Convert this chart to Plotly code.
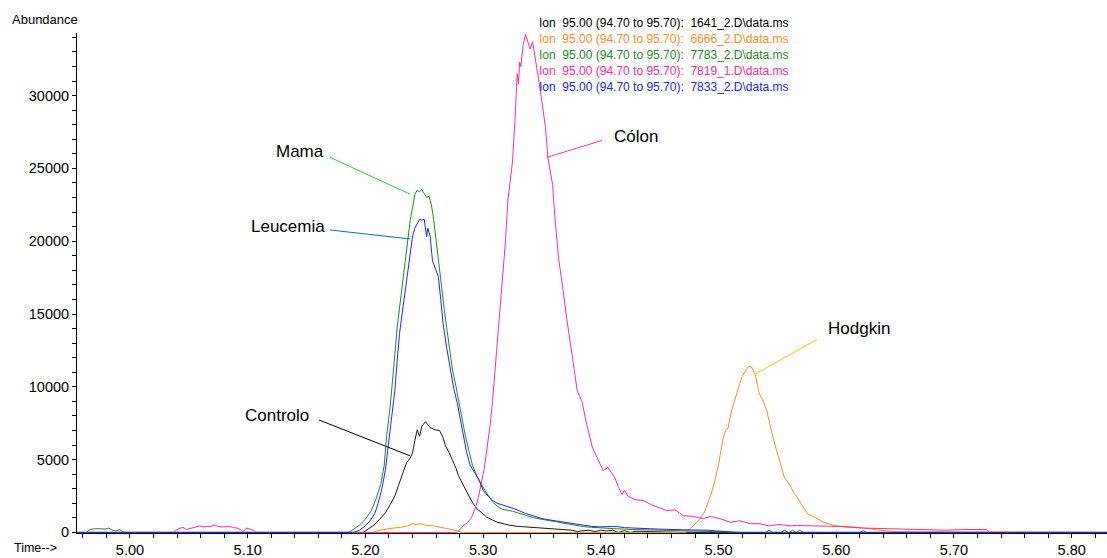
import plotly.graph_objects as go

# Extracted ion chromatograms, m/z 95.00 (94.70 to 95.70)
ion_labels = [
    "Ion\u00a0\u00a095.00 (94.70 to 95.70):\u00a0\u00a01641_2.D\\data.ms",
    "Ion\u00a0\u00a095.00 (94.70 to 95.70):\u00a0\u00a06666_2.D\\data.ms",
    "Ion\u00a0\u00a095.00 (94.70 to 95.70):\u00a0\u00a07783_2.D\\data.ms",
    "Ion\u00a0\u00a095.00 (94.70 to 95.70):\u00a0\u00a07819_1.D\\data.ms",
    "Ion\u00a0\u00a095.00 (94.70 to 95.70):\u00a0\u00a07833_2.D\\data.ms",
]
sample_names = ["Controlo", "Hodgkin", "Mama", "Cólon", "Leucemia"]

# Controlo (1641_2)
t_controlo = [4.955, 5.198, 5.200, 5.204, 5.208, 5.212, 5.217, 5.221, 5.225, 5.228,
              5.231, 5.235, 5.238, 5.240, 5.242, 5.244, 5.246, 5.248, 5.251, 5.253,
              5.255, 5.259, 5.263, 5.266, 5.268, 5.271, 5.274, 5.277, 5.279, 5.282,
              5.285, 5.288, 5.291, 5.295, 5.299, 5.303, 5.308, 5.312, 5.317, 5.322,
              5.329, 5.336, 5.343, 5.350, 5.357, 5.364, 5.371, 5.376, 5.380, 5.383,
              5.390, 5.395, 5.400, 5.405, 5.410, 5.415, 5.420, 5.425, 5.430, 5.470, 5.830]
a_controlo = [0, 0, 100, 300, 550, 900, 1350, 1900, 2500, 3200,
              3900, 4800, 5100, 5450, 6300, 7050, 6600, 7300, 7600, 7400,
              7200, 7050, 7000, 6500, 5950, 5500, 5000, 4400, 3900, 3400,
              2950, 2500, 2050, 1600, 1350, 1050, 850, 700, 600, 500,
              420, 380, 350, 300, 250, 230, 200, 150, 50, 100,
              150, 50, 150, 100, 150, 0, 120, 0, 80, 0, 0]

# Hodgkin (6666_2)
t_hodgkin = [4.955, 5.206, 5.212, 5.218, 5.224, 5.230, 5.236, 5.240, 5.243, 5.247,
             5.252, 5.258, 5.264, 5.270, 5.275, 5.279, 5.282, 5.472, 5.476, 5.480,
             5.484, 5.488, 5.491, 5.494, 5.497, 5.500, 5.502, 5.504, 5.506, 5.508,
             5.511, 5.514, 5.516, 5.518, 5.520, 5.522, 5.524, 5.526, 5.528, 5.530,
             5.531, 5.533, 5.534, 5.536, 5.538, 5.541, 5.543, 5.545, 5.548, 5.550,
             5.552, 5.556, 5.561, 5.564, 5.567, 5.571, 5.576, 5.579, 5.582, 5.589,
             5.597, 5.609, 5.623, 5.637, 5.652, 5.666, 5.675, 5.830]
a_hodgkin = [0, 0, 150, 250, 300, 350, 450, 600, 550, 600,
             480, 450, 350, 280, 200, 100, 0, 0, 250, 550,
             900, 1400, 2000, 2700, 3600, 4650, 5600, 6500, 7000, 7150,
             8350, 9200, 9700, 10200, 10700, 11000, 11250, 11400, 11350, 11000,
             10900, 10200, 9700, 9300, 9000, 8350, 7600, 6950, 6000, 5500,
             4900, 3750, 3200, 2700, 2400, 1850, 1250, 1150, 1000, 700,
             500, 350, 300, 150, 50, 50, 0, 0]

# Mama (7783_2)
t_mama = [4.955, 4.963, 4.966, 4.970, 4.975, 4.979, 4.982, 4.985, 4.988, 4.991,
          4.994, 4.996, 5.186, 5.190, 5.195, 5.200, 5.205, 5.209, 5.213, 5.216,
          5.218, 5.221, 5.223, 5.225, 5.227, 5.229, 5.232, 5.234, 5.236, 5.238,
          5.240, 5.242, 5.244, 5.246, 5.248, 5.250, 5.252, 5.254, 5.256, 5.258,
          5.261, 5.263, 5.265, 5.267, 5.269, 5.272, 5.274, 5.277, 5.279, 5.282,
          5.285, 5.288, 5.291, 5.295, 5.299, 5.303, 5.308, 5.312, 5.316, 5.320,
          5.325, 5.329, 5.336, 5.343, 5.350, 5.357, 5.364, 5.371, 5.378, 5.385,
          5.392, 5.399, 5.413, 5.427, 5.442, 5.456, 5.470, 5.484, 5.495, 5.505,
          5.512, 5.560, 5.563, 5.566, 5.569, 5.572, 5.620, 5.623, 5.626, 5.830]
a_mama = [0, 0, 200, 250, 250, 230, 300, 150, 100, 200,
          50, 0, 0, 200, 500, 900, 1500, 2300, 3300, 4600,
          6600, 8600, 10250, 12200, 14100, 15500, 17200, 18650, 20000, 21400,
          22300, 23200, 23500, 23400, 23550, 23300, 23000, 23100, 22500, 21500,
          19300, 18000, 16600, 15300, 14100, 12500, 11150, 10000, 9100, 7800,
          6600, 5600, 4600, 3800, 3200, 2700, 2100, 1800, 1600, 1550,
          1450, 1350, 1150, 1000, 900, 800, 650, 550, 450, 400,
          350, 300, 250, 200, 180, 130, 120, 100, 60, 40,
          0, 0, 150, 0, 150, 0, 0, 120, 0, 0]

# Cólon (7819_1)
t_colon = [4.955, 5.037, 5.041, 5.045, 5.048, 5.051, 5.055, 5.059, 5.062, 5.065,
           5.069, 5.072, 5.075, 5.078, 5.082, 5.085, 5.088, 5.091, 5.094, 5.096,
           5.099, 5.102, 5.105, 5.107, 5.278, 5.283, 5.287, 5.290, 5.293, 5.296,
           5.299, 5.301, 5.303, 5.306, 5.308, 5.310, 5.312, 5.314, 5.316, 5.319,
           5.321, 5.323, 5.325, 5.327, 5.329, 5.330, 5.331, 5.332, 5.334, 5.336,
           5.338, 5.340, 5.342, 5.344, 5.347, 5.350, 5.353, 5.355, 5.359, 5.361,
           5.364, 5.368, 5.371, 5.376, 5.380, 5.384, 5.388, 5.393, 5.397, 5.402,
           5.406, 5.409, 5.412, 5.415, 5.418, 5.420, 5.423, 5.429, 5.436, 5.443,
           5.450, 5.456, 5.463, 5.470, 5.478, 5.487, 5.493, 5.501, 5.510, 5.518,
           5.527, 5.535, 5.543, 5.552, 5.560, 5.567, 5.580, 5.595, 5.609, 5.623,
           5.637, 5.652, 5.666, 5.680, 5.694, 5.708, 5.722, 5.728, 5.730, 5.830]
a_colon = [0, 0, 250, 350, 200, 250, 350, 450, 380, 400,
           420, 520, 400, 380, 420, 400, 330, 300, 200, 50,
           300, 200, 150, 0, 0, 450, 700, 1000, 1600, 2400,
           3600, 4400, 5600, 7400, 9000, 11000, 13000, 15000, 16800, 20000,
           22750, 24300, 25500, 28200, 31500, 30800, 32300, 32000, 33450, 34200,
           33600, 33200, 33700, 32800, 31200, 29550, 27800, 25750, 23900, 21650,
           18900, 16600, 14700, 11950, 9700, 9000, 7400, 5800, 5100, 4250,
           4450, 4100, 3750, 3100, 2600, 2900, 2500, 2250, 2200, 1900,
           1700, 1500, 1550, 1150, 1100, 950, 1100, 950, 700, 800,
           600, 600, 450, 550, 450, 480, 450, 420, 400, 300,
           280, 220, 200, 220, 150, 200, 200, 200, 0, 0]

# Leucemia (7833_2)
t_leucemia = [4.955, 5.190, 5.195, 5.200, 5.204, 5.208, 5.211, 5.214, 5.217, 5.219,
              5.222, 5.225, 5.227, 5.229, 5.232, 5.235, 5.238, 5.240, 5.242, 5.244,
              5.246, 5.248, 5.250, 5.252, 5.253, 5.255, 5.257, 5.260, 5.262, 5.264,
              5.266, 5.269, 5.272, 5.275, 5.278, 5.281, 5.283, 5.286, 5.289, 5.292,
              5.296, 5.300, 5.304, 5.308, 5.312, 5.316, 5.320, 5.325, 5.329, 5.336,
              5.343, 5.350, 5.357, 5.364, 5.371, 5.378, 5.385, 5.392, 5.399, 5.406,
              5.414, 5.420, 5.427, 5.435, 5.442, 5.449, 5.456, 5.463, 5.470, 5.477,
              5.484, 5.491, 5.498, 5.505, 5.513, 5.518, 5.540, 5.543, 5.546, 5.553,
              5.556, 5.559, 5.830]
a_leucemia = [0, 0, 150, 450, 800, 1300, 2050, 3000, 4300, 5650,
              7600, 9750, 11800, 13650, 15500, 17300, 18900, 20300, 20900, 21200,
              21500, 21450, 21500, 20300, 20900, 20350, 18650, 18000, 17550, 16000,
              14350, 12700, 11150, 9900, 8900, 7600, 6600, 5500, 4600, 4200,
              3700, 2900, 2500, 2200, 2000, 1900, 1800, 1700, 1550, 1300,
              1100, 950, 850, 750, 650, 550, 500, 420, 380, 400,
              400, 330, 320, 280, 250, 230, 200, 200, 180, 170,
              180, 150, 100, 80, 60, 0, 0, 150, 0, 0,
              150, 0, 0]

series_t = [t_controlo, t_hodgkin, t_mama, t_colon, t_leucemia]
series_a = [a_controlo, a_hodgkin, a_mama, a_colon, a_leucemia]
series_colors = ["#1a1a1a", "#ff8c26", "#1f8a1f", "#ff2b95", "#2222ff"]
legend_colors = ["#000000", "#ff8c26", "#1f8a1f", "#ff2b95", "#2222ff"]

# Callouts: label position and the point on the peak the leader line touches
callout_text_pos = {
    "Mama": (5.1444, 26170),
    "Leucemia": (5.1342, 20977),
    "Cólon": (5.4299, 27195),
    "Hodgkin": (5.6194, 14008),
    "Controlo": (5.1249, 8063),
}
callout_line = {
    "Mama": ((5.1699, 25760), (5.2379, 23232)),
    "Leucemia": ((5.1699, 20772), (5.2379, 20157)),
    "Cólon": ((5.4010, 26922), (5.3543, 25760)),
    "Hodgkin": ((5.5837, 13256), (5.5310, 10864)),
    "Controlo": ((5.1606, 7721), (5.2379, 5261)),
}
callout_colors = {
    "Mama": "#33cc33",
    "Leucemia": "#0a6ec8",
    "Cólon": "#ff3399",
    "Hodgkin": "#ffc000",
    "Controlo": "#000000",
}

FONT = "Liberation Sans, Arial, sans-serif"

fig = go.Figure()
for t, a, c, name in zip(series_t, series_a, series_colors, sample_names):
    fig.add_trace(go.Scatter(x=t, y=a, mode="lines", name=name,
                             line=dict(color=c, width=1), showlegend=False,
                             hoverinfo="skip"))

shapes = []
annotations = []
for name, (p0, p1) in callout_line.items():
    shapes.append(dict(type="line", xref="x", yref="y",
                       x0=p0[0], y0=p0[1], x1=p1[0], y1=p1[1],
                       line=dict(color=callout_colors[name], width=1)))
for name, (tx, ty) in callout_text_pos.items():
    annotations.append(dict(x=tx, y=ty, xref="x", yref="y", text=name,
                            showarrow=False, xanchor="center", yanchor="middle",
                            font=dict(family=FONT, size=17, color="#000000")))

# Ion legend lines at the top
for i, (label, col) in enumerate(zip(ion_labels, legend_colors)):
    annotations.append(dict(x=0.4466, y=1.0199 - i * 0.0319, xref="paper", yref="paper",
                            text=label, showarrow=False, xanchor="left", yanchor="middle",
                            font=dict(family=FONT, size=12, color=col)))

annotations.append(dict(x=-0.065, y=1.026, xref="paper", yref="paper", text="Abundance",
                        showarrow=False, xanchor="left", yanchor="middle",
                        font=dict(family=FONT, size=13, color="#000000")))
annotations.append(dict(x=-0.0631, y=-0.0299, xref="paper", yref="paper", text="Time-->",
                        showarrow=False, xanchor="left", yanchor="middle",
                        font=dict(family=FONT, size=12.5, color="#000000")))

fig.update_layout(
    width=1107, height=558,
    margin=dict(l=77, r=0, t=33, b=22),
    paper_bgcolor="white", plot_bgcolor="white",
    shapes=shapes, annotations=annotations,
    xaxis=dict(range=[4.955, 5.830], tick0=5.0, dtick=0.1, tickformat=".2f",
               showgrid=False, zeroline=False, showline=True, linecolor="#000000",
               linewidth=1, ticks="outside", ticklen=4, tickcolor="#000000",
               layer="below traces",
               minor=dict(dtick=0.02, tick0=4.96, ticks="outside", ticklen=4,
                          tickcolor="#000000", showgrid=False),
               tickfont=dict(family=FONT, size=14.5, color="#000000")),
    yaxis=dict(range=[-40, 34300], tick0=0, dtick=5000, tickformat="d",
               showgrid=False, zeroline=False, showline=True, linecolor="#000000",
               linewidth=1, ticks="outside", ticklen=4, tickcolor="#000000",
               layer="below traces",
               minor=dict(dtick=1000, ticks="outside", ticklen=4,
                          tickcolor="#000000", showgrid=False),
               tickfont=dict(family=FONT, size=14.5, color="#000000")),
)

fig.write_html("out.html")
